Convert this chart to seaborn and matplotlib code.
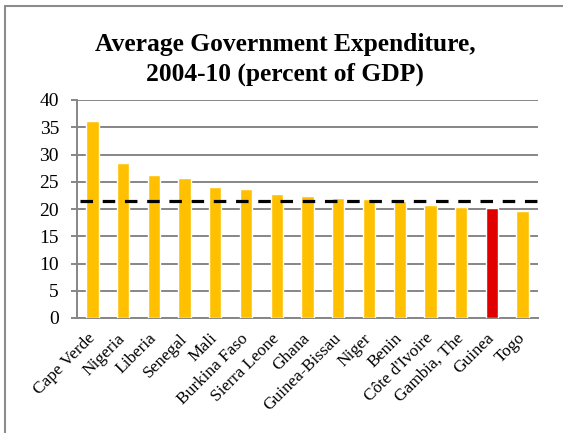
import matplotlib
matplotlib.use("Agg")
import matplotlib.pyplot as plt
from matplotlib.lines import Line2D
import seaborn as sns
import pandas as pd

countries = ["Cape Verde", "Nigeria", "Liberia", "Senegal", "Mali", "Burkina Faso",
             "Sierra Leone", "Ghana", "Guinea-Bissau", "Niger", "Benin",
             "Côte d'Ivoire", "Gambia, The", "Guinea", "Togo"]
expenditure = [36.1, 28.4, 26.2, 25.7, 24.0, 23.6, 22.8, 22.4, 22.1, 21.9, 21.5,
               20.8, 20.4, 20.1, 19.7]
highlight = "Guinea"
average_line = 21.45
y_ticks = [0, 5, 10, 15, 20, 25, 30, 35, 40]
title_lines = ["Average Government Expenditure,", "2004-10 (percent of GDP)"]

GOLD = "#FFC000"
RED = "#E00000"
GRID = "#868686"

sns.set_style("white")
plt.rcParams["font.family"] = ["Liberation Serif", "DejaVu Serif"]
plt.rcParams["lines.scale_dashes"] = False
plt.rcParams["text.color"] = "black"
plt.rcParams["xtick.labelcolor"] = "black"
plt.rcParams["ytick.labelcolor"] = "black"

df = pd.DataFrame({"country": countries, "value": expenditure})
palette = {c: (RED if c == highlight else GOLD) for c in countries}

fig = plt.figure(figsize=(5.63, 4.33), dpi=100)
ax = fig.add_axes([77 / 563, 1 - 318 / 433, (538 - 77) / 563, (318 - 100) / 433])

sns.barplot(data=df, x="country", y="value", hue="country", palette=palette,
            width=0.4, legend=False, ax=ax, saturation=1, zorder=3)

n = len(countries)
ax.set_xlim(-0.5, n - 0.5)
ax.set_ylim(0, 40)
ax.set_yticks(y_ticks)
ax.set_yticklabels([str(t) for t in y_ticks], fontsize=14, color="black")
ax.yaxis.grid(True, color=GRID, linewidth=1.4, zorder=0)
ax.set_axisbelow(True)

# category labels at centres, tick marks at category boundaries
ax.set_xticks(range(n))
ax.set_xticklabels(countries, fontsize=12.4, rotation=45, ha="right",
                   va="center", rotation_mode="anchor", color="black")
ax.set_xticks([i - 0.5 for i in range(n + 1)], minor=True)
ax.tick_params(axis="x", which="major", length=0, pad=13)
ax.tick_params(axis="x", which="minor", length=4, width=1.4, color=GRID,
               direction="out")
ax.tick_params(axis="y", length=4, width=1.4, color=GRID, direction="out",
               pad=9, left=True)
ax.set_xlabel("")
ax.set_ylabel("")

for side in ["top", "right"]:
    ax.spines[side].set_visible(False)
for side in ["left", "bottom"]:
    ax.spines[side].set_color(GRID)
    ax.spines[side].set_linewidth(1.4)

# regional average as a dashed reference line
ax.plot([-0.39, n - 0.33], [average_line, average_line], color="black",
        linewidth=2.3, dashes=(9, 7), clip_on=False, zorder=4)

fig.text(285 / 563, 1 - 44 / 433, title_lines[0], ha="center", va="center",
         fontsize=18.4, fontweight="bold", color="black")
fig.text(285 / 563, 1 - 74 / 433, title_lines[1], ha="center", va="center",
         fontsize=18.4, fontweight="bold", color="black")

# chart frame
fig.add_artist(Line2D([5 / 563, 5 / 563], [0, 1 - 6 / 433], transform=fig.transFigure,
                      color="#8c8c8c", linewidth=1.5))
fig.add_artist(Line2D([5 / 563, 1], [1 - 6 / 433, 1 - 6 / 433], transform=fig.transFigure,
                      color="#8c8c8c", linewidth=1.5))

fig.savefig("out.png", dpi=100)
